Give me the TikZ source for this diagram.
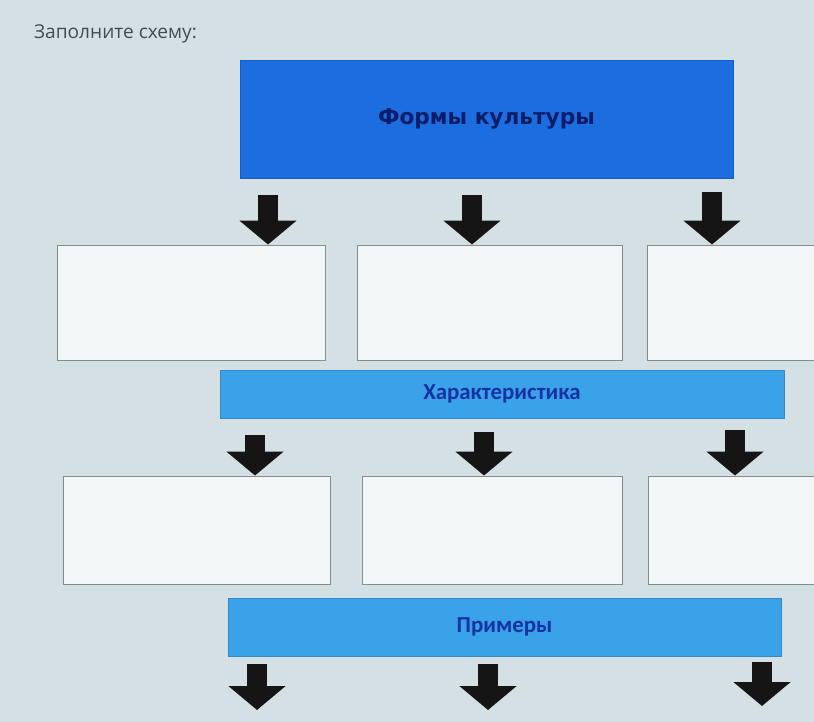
\documentclass[tikz,border=0pt]{standalone}
\usepackage{fontspec}
\setmainfont{Open Sans}
\newfontfamily\headfont{DejaVu Sans}
\newfontfamily\barfont{Carlito}
\usepackage{tikz}
\usetikzlibrary{arrows.meta}
\usetikzlibrary{positioning}

\definecolor{screen}{HTML}{D5E0E5}
\definecolor{tasktext}{HTML}{424B50}
\definecolor{headblue}{HTML}{1C6EE0}
\definecolor{headtext}{HTML}{0B1D6A}
\definecolor{barblue}{HTML}{3AA2E8}
\definecolor{bartext}{HTML}{1632A2}
\definecolor{boxfill}{HTML}{F3F6F7}
\definecolor{boxline}{HTML}{858B8E}
\definecolor{arrowblack}{HTML}{151515}

\newcommand{\px}{0.3mm}

\tikzset{
  emptybox/.style={rectangle,draw=boxline,fill=boxfill,line width=0.8pt,inner sep=0pt},
  headbox/.style={rectangle,draw=headblue!85!black,fill=headblue,line width=0.6pt,text=headtext,font=\headfont\bfseries\fontsize{18.5}{22}\selectfont},
  barbox/.style={rectangle,draw=barblue!85!black,fill=barblue,line width=0.6pt,text=bartext,font=\barfont\bfseries\fontsize{19.5}{22}\selectfont},
  downarrow/.style={draw=arrowblack,line width=6mm,-{Triangle[width=16.8mm,length=7.2mm]}}
}

\begin{document}
\begin{tikzpicture}[x=\px,y=-\px]
\useasboundingbox (0,0) rectangle (814,722);
\fill[screen] (0,0) rectangle (814,722);
\clip (0,0) rectangle (814,722);

\node at (30,34)[anchor=west,text=tasktext,font=\fontsize{16.3}{19}\selectfont](task){Заполните схему:};

% forms of culture
\node at (486.5,119)[headbox,minimum width=493*\px,minimum height=118*\px](forms){Формы культуры};

\node at (191,302.5)[emptybox,minimum width=268*\px,minimum height=115*\px](forma){};
\node at (489.5,302.5)[emptybox,minimum width=265*\px,minimum height=115*\px](formb){};
\node at (738.5,302.5)[emptybox,minimum width=183*\px,minimum height=115*\px](formc){};

\coordinate (fa) at (268,195);
\coordinate (fb) at (472,195);
\coordinate (fc) at (712,192);
\draw[downarrow] (fa) -- (fa |- forma.north);
\draw[downarrow] (fb) -- (fb |- formb.north);
\draw[downarrow] (fc) -- (fc |- formc.north);

% characteristics
\node at (502,394)[barbox,minimum width=564*\px,minimum height=48*\px](traits){Характеристика};

\node at (196.5,530)[emptybox,minimum width=267*\px,minimum height=108*\px](traita){};
\node at (492,530)[emptybox,minimum width=260*\px,minimum height=108*\px](traitb){};
\node at (739,530)[emptybox,minimum width=182*\px,minimum height=108*\px](traitc){};

\coordinate (ta) at (255,435);
\coordinate (tb) at (484,432);
\coordinate (tc) at (735,430);
\draw[downarrow] (ta) -- (ta |- traita.north);
\draw[downarrow] (tb) -- (tb |- traitb.north);
\draw[downarrow] (tc) -- (tc |- traitc.north);

% examples
\node at (504.5,627)[barbox,minimum width=553*\px,minimum height=58*\px](samples){Примеры};

\coordinate (sa) at (257,664);
\coordinate (sb) at (488,664);
\coordinate (sc) at (762,662);
\coordinate (sa end) at (257,710);
\coordinate (sb end) at (488,710);
\coordinate (sc end) at (762,706);
\draw[downarrow] (sa) -- (sa end);
\draw[downarrow] (sb) -- (sb end);
\draw[downarrow] (sc) -- (sc end);
\end{tikzpicture}
\end{document}
